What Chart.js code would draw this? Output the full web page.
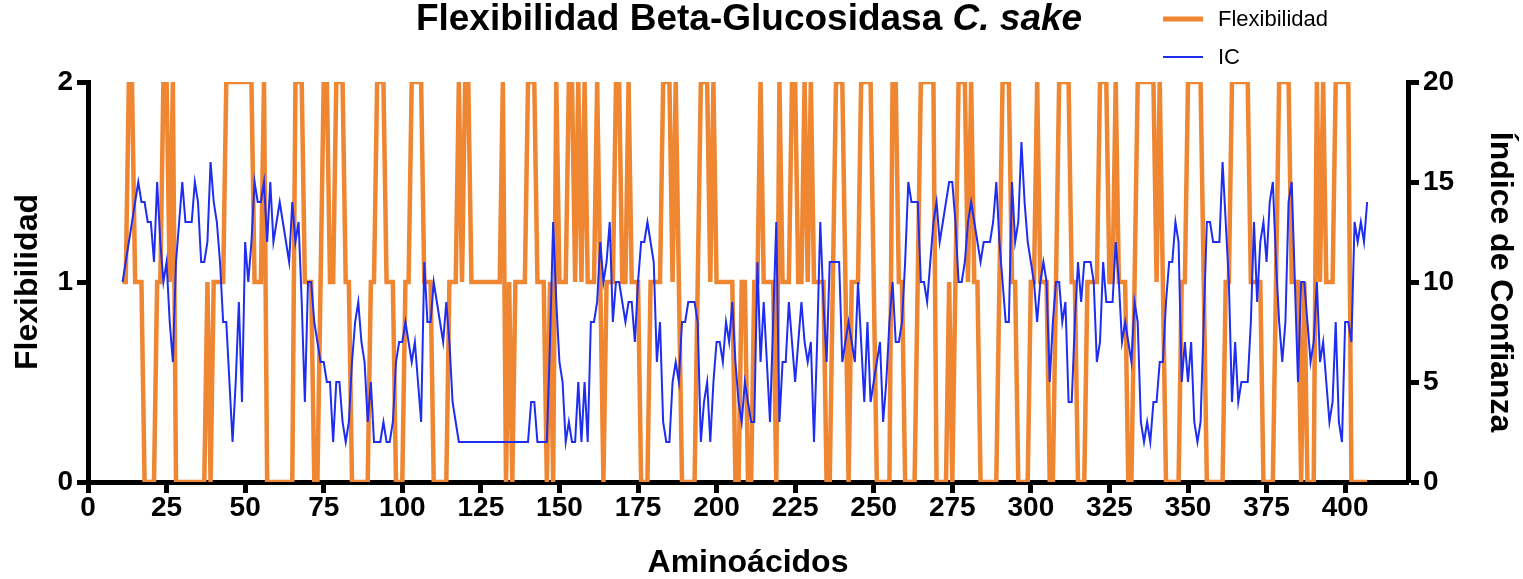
<!DOCTYPE html>
<html><head><meta charset="utf-8">
<script src="https://cdn.jsdelivr.net/npm/chart.js@4.4.1/dist/chart.umd.min.js"></script>
<style>html,body{margin:0;padding:0;background:#fff;}#wrap{position:relative;width:1523px;height:579px;}</style>
</head><body><div id="wrap"><canvas id="c" width="1523" height="579"></canvas></div>
<script>
const firstResidue = 11;
const flexibilidad = [
1,1,2,2,1,1,1,0,0,0, 0,1,1,2,2,1,2,0,0,0, 0,0,0,0,0,0,0,1,0,1, 1,1,1,2,2,2,2,2,2,2,
2,2,1,1,1,2,0,0,0,0, 0,0,0,0,0,2,2,2,1,1, 1,0,0,1,2,2,1,1,2,2, 2,1,1,0,0,0,0,0,0,1,
1,2,2,2,1,1,1,0,0,0, 1,1,2,2,2,2,1,1,1,0, 0,0,0,0,1,1,1,2,1,2, 2,1,1,1,1,1,1,1,1,1,
1,2,0,1,0,1,1,1,1,2, 2,2,1,1,1,0,1,0,2,1, 1,1,2,2,1,2,1,2,1,1, 1,2,1,0,1,1,1,2,2,1,
1,2,1,1,1,0,0,0,1,1, 1,1,2,2,2,1,2,1,0,0, 0,0,0,1,2,2,2,1,2,1, 1,1,1,1,1,0,0,1,1,0,
0,1,1,2,1,1,1,1,0,2, 1,1,1,2,2,1,1,2,1,2, 1,1,1,1,0,0,1,2,2,2, 1,0,1,1,1,2,2,2,2,1,
0,0,0,0,0,2,2,1,1,0, 0,0,0,1,2,2,2,2,2,0, 0,0,0,1,0,1,2,2,2,1, 2,1,1,0,0,0,0,0,0,1,
2,2,2,1,1,0,0,0,0,1, 1,2,1,1,1,0,0,1,2,2, 2,2,1,1,0,0,0,1,1,1, 1,2,2,2,1,1,2,1,1,1,
0,0,1,2,2,2,2,2,2,1, 2,1,0,0,0,0,0,1,1,2, 2,2,2,2,1,0,0,0,0,0, 0,1,1,2,2,2,2,2,2,1,
1,1,1,0,0,0,0,1,2,2, 2,2,1,1,1,0,1,0,0,0, 2,1,2,1,1,1,2,2,2,2, 2,0,0,0,0,0,0
];
const indiceConfianza = [
10,11,12,13,14,15,14,14,13,13, 11,15,12,10,11,8,6,11,13,15, 13,13,13,15,14,11,11,12,16,14, 13,11,8,8,5,2,5,9,4,12,
10,12,15,14,14,15,12,15,12,13, 14,13,12,11,14,12,13,9,4,10, 10,8,7,6,6,5,5,2,5,5, 3,2,3,6,8,9,7,6,3,5,
2,2,2,3,2,2,3,6,7,7, 8,7,6,7,5,3,11,8,8,10, 9,8,7,9,7,4,3,2,2,2, 2,2,2,2,2,2,2,2,2,2,
2,2,2,2,2,2,2,2,2,2, 4,4,2,2,2,2,7,13,9,6, 5,2,3,2,2,5,2,5,2,8, 8,9,12,10,11,13,8,10,10,9,
8,9,9,7,10,12,12,13,12,11, 6,8,3,2,2,5,6,5,8,8, 9,9,9,8,2,4,5,2,5,7, 7,6,8,7,9,6,4,3,5,4,
3,3,11,6,9,6,3,8,13,3, 6,6,9,7,5,7,9,7,6,7, 2,7,13,9,6,11,11,11,11,6, 7,8,7,6,10,7,4,8,4,5,
6,7,3,5,8,10,7,7,8,11, 15,14,14,14,10,10,9,11,13,14, 12,13,14,15,15,13,10,10,11,13, 14,13,12,11,12,12,12,13,15,12,
10,8,8,15,12,13,17,14,12,11, 10,8,10,11,10,5,8,10,10,8, 9,4,4,8,11,9,11,11,11,10, 6,7,11,9,9,9,12,10,7,8,
7,6,9,8,3,2,3,2,4,4, 6,6,9,11,11,13,12,5,7,5, 7,3,2,3,8,13,13,12,12,12, 16,13,10,4,7,4,5,5,5,8,
13,9,12,13,11,14,15,11,8,6, 8,14,15,10,5,10,10,8,6,7, 10,6,7,5,3,4,8,3,2,8, 8,7,13,12,13,12,14
];
const xTickValues = [0,25,50,75,100,125,150,175,200,225,250,275,300,325,350,375,400];
const leftTickValues = [0,1,2];
const rightTickValues = [0,5,10,15,20];
const titleMain = 'Flexibilidad Beta-Glucosidasa ';
const titleItalic = 'C. sake';
const seriesLabels = ['Flexibilidad','IC'];
const axisTitles = {x:'Aminoácidos', y:'Flexibilidad', y1:'Índice de Confianza'};

const FAM = "'Liberation Sans', Arial, Helvetica, sans-serif";
const ORANGE = '#EE8632';
const BLUE = '#1E2DF0';

const flexPts = flexibilidad.map((v,k)=>({x:firstResidue+k, y:v}));
const icPts = indiceConfianza.map((v,k)=>({x:firstResidue+k, y:v}));

const tickFont = {family:FAM, weight:'bold', size:28, lineHeight:1.0};
const axTitleFont = {family:FAM, weight:'bold', size:32, lineHeight:1.0};
function axisCommon(pad){
  return {
    border:{display:true,color:'#000',width:5},
    grid:{display:true,drawOnChartArea:false,drawTicks:true,tickLength:11,tickWidth:5,tickColor:'#000',color:'#000'},
    ticks:{font:tickFont,color:'#000',padding:pad,autoSkip:false,maxRotation:0}
  };
}

const titlePlugin = {
  id:'mixedTitle',
  afterDraw(chart){
    const ctx = chart.ctx;
    ctx.save();
    ctx.fillStyle='#000';
    ctx.textBaseline='alphabetic';
    const f1 = "bold 37px "+FAM, f2 = "italic bold 37px "+FAM;
    ctx.font=f1; const w1 = ctx.measureText(titleMain).width;
    ctx.font=f2; const w2 = ctx.measureText(titleItalic).width;
    const cx = 749, y = 30;
    let x = cx-(w1+w2)/2;
    ctx.font=f1; ctx.textAlign='left'; ctx.fillText(titleMain,x,y);
    ctx.font=f2; ctx.fillText(titleItalic,x+w1,y);
    ctx.restore();
  }
};
const legendPlugin = {
  id:'customLegend',
  afterDraw(chart){
    const ctx = chart.ctx;
    ctx.save();
    const items = [
      {label:seriesLabels[0], color:ORANGE, w:5, y:19},
      {label:seriesLabels[1], color:BLUE, w:2, y:57}
    ];
    items.forEach(it=>{
      ctx.strokeStyle=it.color; ctx.lineWidth=it.w; ctx.lineCap='butt';
      ctx.beginPath(); ctx.moveTo(1163,it.y); ctx.lineTo(1203,it.y); ctx.stroke();
      ctx.fillStyle='#000'; ctx.font="22px "+FAM; ctx.textBaseline='middle'; ctx.textAlign='left';
      ctx.fillText(it.label,1218,it.y+1);
    });
    ctx.restore();
  }
};

const xOpts = axisCommon(1);
Object.assign(xOpts,{type:'linear',position:'bottom',min:0,max:420,
  afterBuildTicks:s=>{s.ticks = xTickValues.map(v=>({value:v}));},
  afterFit:s=>{s.height=97;},
  title:{display:true,text:axisTitles.x,font:axTitleFont,color:'#000',padding:{top:4,bottom:0}}});
const yOpts = axisCommon(4);
Object.assign(yOpts,{type:'linear',position:'left',min:0,max:2,
  afterBuildTicks:s=>{s.ticks = leftTickValues.map(v=>({value:v}));},
  afterFit:s=>{s.width=88;},
  title:{display:true,text:axisTitles.y,font:axTitleFont,color:'#000',padding:{top:12,bottom:4}}});
const y1Opts = axisCommon(4);
Object.assign(y1Opts,{type:'linear',position:'right',min:0,max:20,
  afterBuildTicks:s=>{s.ticks = rightTickValues.map(v=>({value:v}));},
  afterFit:s=>{s.width=115;},
  title:{display:true,text:axisTitles.y1,font:axTitleFont,color:'#000',padding:{top:7,bottom:4}}});

new Chart(document.getElementById('c'),{
  type:'line',
  data:{datasets:[
    {label:seriesLabels[0],data:flexPts,yAxisID:'y',borderColor:ORANGE,backgroundColor:ORANGE,borderWidth:4.5,pointRadius:0,tension:0,order:2,borderJoinStyle:'miter'},
    {label:seriesLabels[1],data:icPts,yAxisID:'y1',borderColor:BLUE,backgroundColor:BLUE,borderWidth:2,pointRadius:0,tension:0,order:1}
  ]},
  options:{
    responsive:false,animation:false,devicePixelRatio:1,
    layout:{padding:{top:82,left:0,right:0,bottom:0}},
    plugins:{legend:{display:false},title:{display:false},tooltip:{enabled:false}},
    scales:{x:xOpts,y:yOpts,y1:y1Opts}
  },
  plugins:[titlePlugin,legendPlugin]
});
</script></body></html>
